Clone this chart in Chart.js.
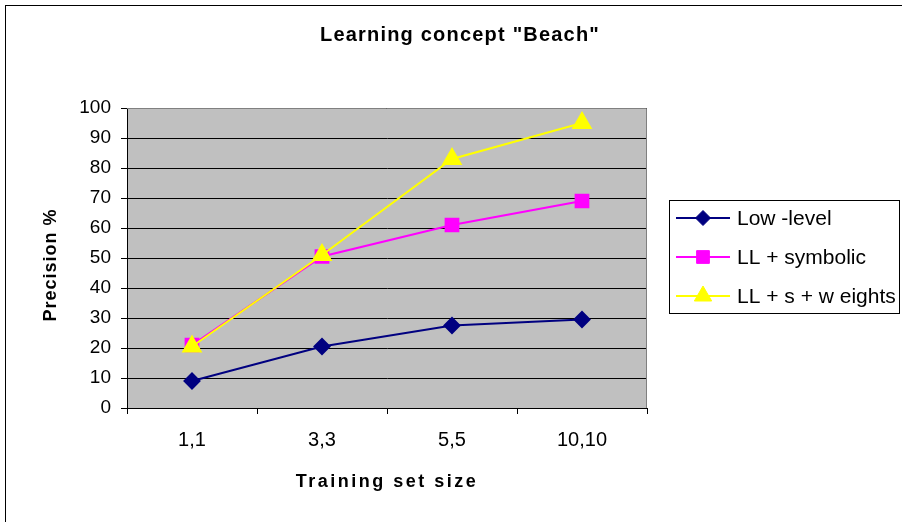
<!DOCTYPE html>
<html>
<head>
<meta charset="utf-8">
<script src="https://cdn.jsdelivr.net/npm/chart.js@4"></script>
<style>
  body { margin: 0; background: #fff; }
  #wrap { position: absolute; left: 0; top: 0; width: 902px; height: 522px; }
</style>
</head>
<body>
<div id="wrap"><canvas id="chart" width="902" height="522"></canvas></div>
<script>
// Chart data
const categories = ["1,1", "3,3", "5,5", "10,10"];
const lowLevel = [9, 20.5, 27.5, 29.5];
const llSymbolic = [21, 50.5, 61, 69];
const llWeights = [20.5, 51, 83, 95];
const seriesNames = ["Low -level", "LL + symbolic", "LL + s + w eights"];
const yMin = 0, yMax = 100, yStep = 10;

const FONT = "'Liberation Sans', Arial, sans-serif";

// Background, frame, plot area, titles and legend
const framePlugin = {
    id: "frame",
    beforeDraw(chart) {
        const ctx = chart.ctx;
        const a = chart.chartArea;
        ctx.save();
        ctx.fillStyle = "#fff";
        ctx.fillRect(0, 0, chart.width, chart.height);
        ctx.strokeStyle = "#000";
        ctx.lineWidth = 1;
        ctx.strokeRect(5.5, 5.5, chart.width + 10, chart.height + 10);
        ctx.fillStyle = "#c0c0c0";
        ctx.fillRect(a.left, a.top, a.right - a.left, a.bottom - a.top);
        ctx.restore();
    },
    beforeDatasetsDraw(chart) {
        const ctx = chart.ctx;
        const a = chart.chartArea;
        ctx.save();
        ctx.strokeStyle = "#808080";
        ctx.lineWidth = 1;
        ctx.beginPath();
        ctx.moveTo(a.left, a.top + 0.5);
        ctx.lineTo(a.right - 0.5, a.top + 0.5);
        ctx.lineTo(a.right - 0.5, a.bottom);
        ctx.stroke();
        ctx.restore();
    },
    afterDraw(chart) {
        const ctx = chart.ctx;
        const a = chart.chartArea;
        ctx.save();
        ctx.fillStyle = "#000";
        ctx.textAlign = "center";
        ctx.textBaseline = "middle";

        // chart title
        ctx.font = "bold 20px " + FONT;
        ctx.letterSpacing = "1.2px";
        ctx.fillText('Learning concept "Beach"', 460, 35);

        // x axis title
        ctx.font = "bold 18px " + FONT;
        ctx.letterSpacing = "2.5px";
        ctx.fillText("Training set size", (a.left + a.right) / 2, 482);

        // y axis title
        ctx.letterSpacing = "1px";
        ctx.save();
        ctx.translate(51, 265);
        ctx.rotate(-Math.PI / 2);
        ctx.fillText("Precision %", 0, 0);
        ctx.restore();

        // legend
        ctx.letterSpacing = "0px";
        ctx.strokeStyle = "#000";
        ctx.lineWidth = 1;
        ctx.strokeRect(669.5, 200.5, 230, 113);
        ctx.textAlign = "left";
        ctx.font = "21px " + FONT;
        chart.data.datasets.forEach((ds, i) => {
            const y = 218 + i * 39;
            ctx.strokeStyle = ds.borderColor;
            ctx.lineWidth = 2;
            ctx.beginPath();
            ctx.moveTo(676, y);
            ctx.lineTo(730, y);
            ctx.stroke();
            ctx.fillStyle = ds.pointBackgroundColor;
            ctx.strokeStyle = ds.pointBorderColor;
            ctx.lineWidth = 1;
            Chart.helpers.drawPoint(ctx, {
                pointStyle: ds.pointStyle,
                radius: ds.pointRadius,
                rotation: 0,
                borderWidth: 1
            }, 703, y);
            ctx.fillStyle = "#000";
            ctx.fillText(ds.label, 737, y + 1);
        });
        ctx.restore();
    }
};

const ctx = document.getElementById("chart").getContext("2d");
const chart = new Chart(ctx, {
    type: "line",
    data: {
        labels: categories,
        datasets: [
            {
                label: seriesNames[0],
                data: lowLevel,
                borderColor: "#000080",
                pointBackgroundColor: "#000080",
                pointBorderColor: "#000080",
                pointStyle: "rectRot",
                pointRadius: 7.5,
                borderWidth: 2,
                order: 3
            },
            {
                label: seriesNames[1],
                data: llSymbolic,
                borderColor: "#ff00ff",
                pointBackgroundColor: "#ff00ff",
                pointBorderColor: "#ff00ff",
                pointStyle: "rect",
                pointRadius: 9,
                borderWidth: 2,
                order: 2
            },
            {
                label: seriesNames[2],
                data: llWeights,
                borderColor: "#ffff00",
                pointBackgroundColor: "#ffff00",
                pointBorderColor: "#ffff00",
                pointStyle: "triangle",
                pointRadius: 10,
                borderWidth: 2,
                order: 1
            }
        ]
    },
    options: {
        responsive: false,
        animation: false,
        devicePixelRatio: 1,
        layout: { padding: { left: 0, right: 255, top: 108, bottom: 0 } },
        plugins: {
            legend: { display: false },
            title: { display: false },
            tooltip: { enabled: false }
        },
        scales: {
            x: {
                offset: true,
                grid: {
                    offset: true,
                    drawOnChartArea: false,
                    color: "#000",
                    tickLength: 6
                },
                border: { color: "#000", width: 1 },
                ticks: {
                    color: "#000",
                    font: { family: FONT, size: 20 },
                    padding: 14,
                    maxRotation: 0
                },
                afterFit(scale) { scale.height = 114; }
            },
            y: {
                min: yMin,
                max: yMax,
                grid: {
                    color: "#000",
                    tickLength: 6
                },
                border: { color: "#000", width: 1 },
                ticks: {
                    stepSize: yStep,
                    color: "#000",
                    font: { family: FONT, size: 19 },
                    padding: 10
                },
                afterFit(scale) { scale.width = 127; }
            }
        }
    },
    plugins: [framePlugin]
});
</script>
</body>
</html>
